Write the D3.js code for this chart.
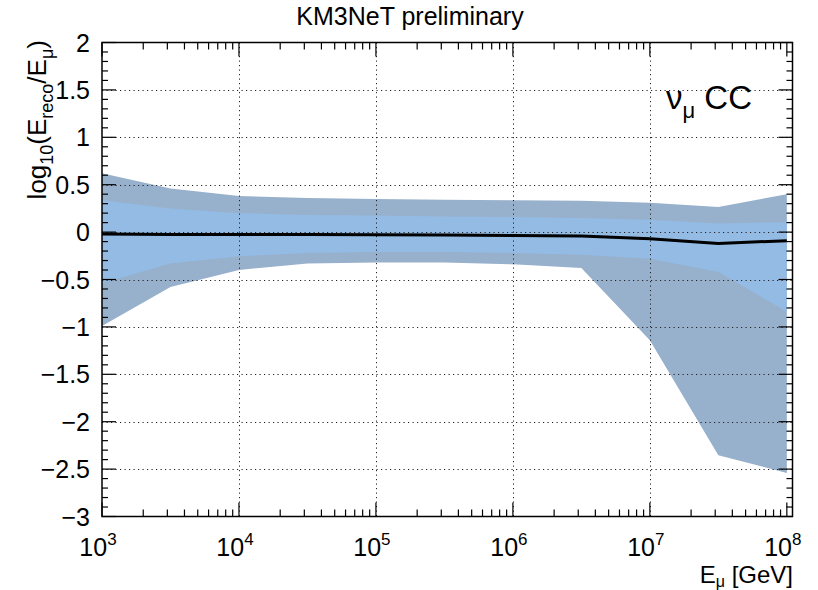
<!DOCTYPE html>
<html>
<head>
<meta charset="utf-8">
<script src="https://cdn.jsdelivr.net/npm/d3@7"></script>
<style>
  html, body { margin: 0; padding: 0; background: #fff; }
  svg { display: block; font-family: "Liberation Sans", Arial, Helvetica, sans-serif; }
</style>
</head>
<body>
<svg id="chart" width="818" height="590"></svg>
<script>
// Muon energy sampling points (GeV), half-decade steps
const energies = [1e3, 3.162e3, 1e4, 3.162e4, 1e5, 3.162e5, 1e6, 3.162e6, 1e7, 3.162e7, 1e8];
// log10(E_reco / E_mu): median and the two resolution bands
const median   = [-0.02, -0.025, -0.025, -0.025, -0.028, -0.03, -0.035, -0.04, -0.07, -0.12, -0.09];
const outerUp  = [0.62, 0.46, 0.38, 0.36, 0.35, 0.34, 0.335, 0.33, 0.31, 0.265, 0.40];
const innerUp  = [0.335, 0.25, 0.20, 0.18, 0.175, 0.165, 0.16, 0.15, 0.13, 0.09, 0.105];
const innerLo  = [-0.54, -0.33, -0.255, -0.22, -0.21, -0.21, -0.22, -0.24, -0.28, -0.42, -0.84];
const outerLo  = [-0.99, -0.58, -0.40, -0.33, -0.32, -0.32, -0.34, -0.38, -1.14, -2.355, -2.54];

const xDecades = [1e3, 1e4, 1e5, 1e6, 1e7, 1e8];
const xExponents = ["3", "4", "5", "6", "7", "8"];
const yMajor = [-3, -2.5, -2, -1.5, -1, -0.5, 0, 0.5, 1, 1.5, 2];
const yLabels = ["\u22123", "\u22122.5", "\u22122", "\u22121.5", "\u22121", "\u22120.5", "0", "0.5", "1", "1.5", "2"];

const svg = d3.select("#chart");
const L = 102, R = 792.5, T = 42.5, B = 516.5;

const x = d3.scaleLog().domain([1e3, 1.1e8]).range([L, R]);
const y = d3.scaleLinear().domain([-3, 2]).range([B, T]);

const rows = energies.map((e, i) => ({
  e, med: median[i], oU: outerUp[i], iU: innerUp[i], iL: innerLo[i], oL: outerLo[i]
}));

// Bands
const band = (lo, hi) => d3.area().x(d => x(d.e)).y0(d => y(d[lo])).y1(d => y(d[hi]));
svg.append("path").datum(rows).attr("d", band("oL", "oU")).attr("fill", "#97b0cb");
svg.append("path").datum(rows).attr("d", band("iL", "iU")).attr("fill", "#94bbe4");

// Dotted grid
const grid = svg.append("g").attr("stroke", "#222").attr("stroke-width", 1)
  .attr("stroke-dasharray", "1.2,3.3");
xDecades.slice(1, -1).forEach(v => {
  grid.append("line").attr("x1", Math.round(x(v)) + 0.5).attr("x2", Math.round(x(v)) + 0.5)
    .attr("y1", T).attr("y2", B);
});
yMajor.slice(1, -1).forEach(v => {
  grid.append("line").attr("y1", Math.round(y(v)) + 0.5).attr("y2", Math.round(y(v)) + 0.5)
    .attr("x1", L).attr("x2", R);
});

// Median line
svg.append("path").datum(rows)
  .attr("d", d3.line().x(d => x(d.e)).y(d => y(d.med)))
  .attr("fill", "none").attr("stroke", "#000").attr("stroke-width", 3);

// Frame
svg.append("rect").attr("x", L).attr("y", T).attr("width", R - L).attr("height", B - T)
  .attr("fill", "none").attr("stroke", "#000").attr("stroke-width", 1.5);

// Ticks on all four sides
const ticks = svg.append("g").attr("stroke", "#000").attr("stroke-width", 1.2);
const xMinor = [];
for (let d = 1e3; d < 1e8 + 1; d *= 10) for (let k = 2; k <= 9; k++) if (d * k <= 1.1e8) xMinor.push(d * k);
xDecades.forEach(v => {
  const px = x(v);
  ticks.append("line").attr("x1", px).attr("x2", px).attr("y1", B).attr("y2", B - 14);
  ticks.append("line").attr("x1", px).attr("x2", px).attr("y1", T).attr("y2", T + 14);
});
xMinor.forEach(v => {
  const px = x(v);
  ticks.append("line").attr("x1", px).attr("x2", px).attr("y1", B).attr("y2", B - 7);
  ticks.append("line").attr("x1", px).attr("x2", px).attr("y1", T).attr("y2", T + 7);
});
d3.range(-30, 21).forEach(k => {
  const v = k / 10, py = y(v);
  const len = (k % 5 === 0) ? 14 : 6;
  ticks.append("line").attr("x1", L).attr("x2", L + len).attr("y1", py).attr("y2", py);
  ticks.append("line").attr("x1", R).attr("x2", R - len).attr("y1", py).attr("y2", py);
});

// Y tick labels
svg.append("g").selectAll("text").data(yMajor).join("text")
  .attr("x", 90).attr("y", d => y(d)).attr("dy", "0.36em")
  .attr("text-anchor", "end").attr("font-size", 25)
  .text((d, i) => yLabels[i]);

// X tick labels: 10^n
const xl = svg.append("g");
xDecades.forEach((v, i) => {
  const t = xl.append("text").attr("x", x(v) - 4).attr("y", 556)
    .attr("text-anchor", "middle").attr("font-size", 25);
  t.append("tspan").text("10");
  t.append("tspan").attr("dy", -11).attr("font-size", 17).text(xExponents[i]);
});

// Axis titles
const xt = svg.append("text").attr("x", 793).attr("y", 583).attr("text-anchor", "end").attr("font-size", 24);
xt.append("tspan").text("E");
xt.append("tspan").attr("dy", 4).attr("font-size", 16).text("\u03bc");
xt.append("tspan").attr("dy", -4).text(" [GeV]");

const yt = svg.append("text").attr("transform", "translate(46,40) rotate(-90)")
  .attr("text-anchor", "end").attr("font-size", 26);
yt.append("tspan").text("log");
yt.append("tspan").attr("dy", 7).attr("font-size", 18).text("10");
yt.append("tspan").attr("dy", -7).text("(E");
yt.append("tspan").attr("dy", 7).attr("font-size", 18).text("reco");
yt.append("tspan").attr("dy", -7).text("/E");
yt.append("tspan").attr("dy", 7).attr("font-size", 18).text("\u03bc");
yt.append("tspan").attr("dy", -7).text(")");

// Title
svg.append("text").attr("x", 410).attr("y", 25).attr("text-anchor", "middle")
  .attr("font-size", 25).text("KM3NeT preliminary");

// Channel label
const ch = svg.append("text").attr("x", 666).attr("y", 109).attr("font-size", 33);
ch.append("tspan").text("\u03bd");
ch.append("tspan").attr("dy", 9).attr("font-size", 22).text("\u03bc");
ch.append("tspan").attr("dy", -9).text(" CC");
</script>
</body>
</html>
